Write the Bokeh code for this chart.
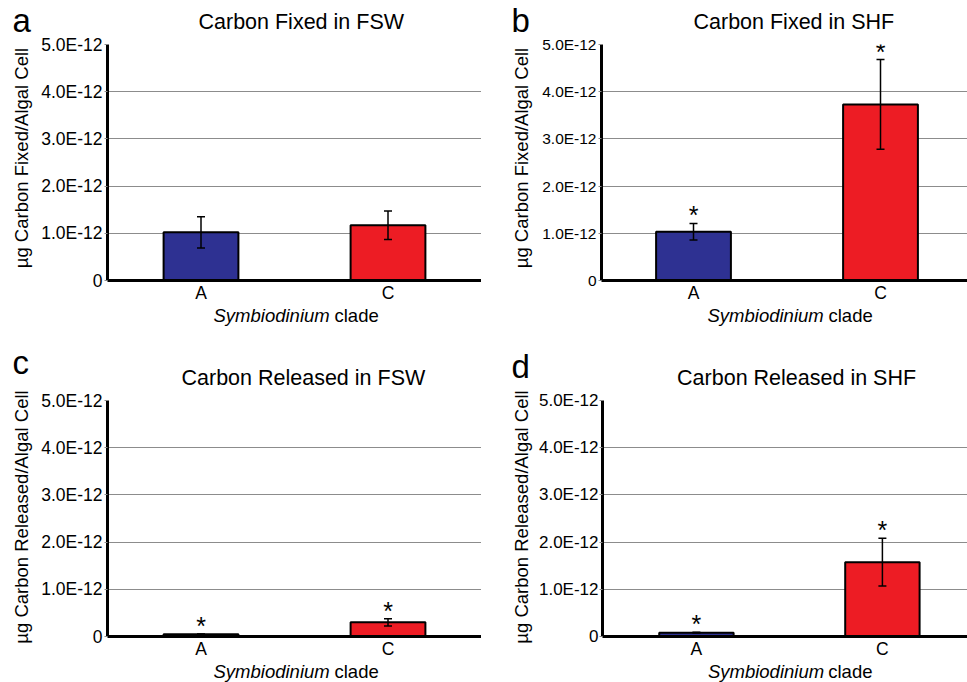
import math
from bokeh.plotting import figure
from bokeh.models import (Range1d, FixedTicker, CustomJSTickFormatter,
                          Whisker, TeeHead, ColumnDataSource)
from bokeh.layouts import column, row
from bokeh.core.properties import value
from bokeh.embed import file_html
from bokeh.resources import INLINE

# ---------------- data ----------------
clades = ["A", "C"]
bar_colors = ["#2E3192", "#ED1C24"]

fixed_fsw = [1.02e-12, 1.17e-12]
fixed_fsw_err = [0.33e-12, 0.30e-12]
fixed_fsw_sig = [False, False]

fixed_shf = [1.035e-12, 3.73e-12]
fixed_shf_err = [0.175e-12, 0.95e-12]
fixed_shf_sig = [True, True]

released_fsw = [0.05e-12, 0.30e-12]
released_fsw_err = [0.005e-12, 0.075e-12]
released_fsw_sig = [True, True]

released_shf = [0.08e-12, 1.575e-12]
released_shf_err = [0.008e-12, 0.505e-12]
released_shf_sig = [True, True]

ytick_values = [0, 1e-12, 2e-12, 3e-12, 4e-12, 5e-12]
ytick_labels = ["0", "1.0E-12", "2.0E-12", "3.0E-12", "4.0E-12", "5.0E-12"]

titles = ["Carbon Fixed in FSW", "Carbon Fixed in SHF",
          "Carbon Released in FSW", "Carbon Released in SHF"]
letters = ["a", "b", "c", "d"]
ylabels = ["\u00b5g Carbon Fixed/Algal Cell", "\u00b5g Carbon Fixed/Algal Cell",
           "\u00b5g Carbon Released/Algal Cell", "\u00b5g Carbon Released/Algal Cell"]
xlabel_italic = "Symbiodinium"
xlabel_rest = "clade"

# ---------------- layout constants ----------------
FONT = "Liberation Sans"
PX_PER_UNIT = 187
GRID = "#8c8c8c"
QUAD_W = [481, 486]          # left / right quadrant widths
LEFTCOL_W = [36, 54]         # column holding panel letter + y label
QUAD_H = 341
PANEL_TOP, PANEL_BOTTOM, FRAME_H = 10, 22, 239
PANEL_H = PANEL_TOP + FRAME_H + PANEL_BOTTOM
TOP_H = [34, 49]             # title strip heights (row 1, row 2)
BASELINE_FIX = 0.38          # em; compensates SVG alphabetic baseline placement

LOOKUP = """
let i = -1;
for (let k = 0; k < tvals.length; k++) {
  if (Math.abs(tvals[k] - tick) <= 1e-6 * Math.max(Math.abs(tvals[k]), 1e-18)) { i = k; break; }
}
return i >= 0 ? tlabels[i] : "";
"""


def make_panel(vals, errs, sig, *, width, border_left, x_start, tick_size,
               tick_standoff):
    x_end = x_start + (width - border_left) / PX_PER_UNIT
    p = figure(width=width, height=PANEL_H,
               x_range=Range1d(x_start, x_end), y_range=Range1d(0, 5e-12),
               output_backend="svg", toolbar_location=None,
               min_border_left=border_left, min_border_right=0,
               min_border_top=PANEL_TOP, min_border_bottom=PANEL_BOTTOM)
    p.outline_line_color = None
    p.background_fill_color = "white"
    p.border_fill_color = "white"

    xs = [i + 0.5 for i in range(len(clades))]
    src = ColumnDataSource(dict(
        x=xs, top=vals, color=bar_colors,
        upper=[v + e for v, e in zip(vals, errs)],
        lower=[v - e for v, e in zip(vals, errs)],
    ))
    p.vbar(x="x", top="top", bottom=0, width=0.4, fill_color="color",
           line_color="black", line_width=2, source=src)

    w = Whisker(base="x", upper="upper", lower="lower", source=src,
                line_color="black", line_width=1.5, level="overlay",
                upper_head=TeeHead(size=8, line_width=1.5, line_color="black"),
                lower_head=TeeHead(size=8, line_width=1.5, line_color="black"))
    p.add_layout(w)

    sx = [x for x, s in zip(xs, sig) if s]
    sy = [v + e for v, e, s in zip(vals, errs, sig) if s]
    if sx:
        p.text(x=sx, y=sy, text=["*"] * len(sx), text_font=value(FONT),
               text_font_size="25px", text_align="center",
               text_baseline="alphabetic", text_color="black", y_offset=-8)

    yax = p.yaxis[0]
    yax.ticker = FixedTicker(ticks=ytick_values)
    yax.formatter = CustomJSTickFormatter(
        args=dict(tvals=ytick_values, tlabels=ytick_labels), code=LOOKUP)
    yax.major_label_text_font = FONT
    yax.major_label_text_font_size = tick_size
    yax.major_label_text_color = "black"
    yax.major_label_standoff = tick_standoff
    yax.axis_line_width = 3
    yax.axis_line_color = "black"
    yax.major_tick_out = 3
    yax.major_tick_in = 0
    yax.major_tick_line_color = GRID
    yax.minor_tick_line_color = None

    xax = p.xaxis[0]
    xax.ticker = FixedTicker(ticks=xs)
    xax.formatter = CustomJSTickFormatter(
        args=dict(tvals=xs, tlabels=clades), code=LOOKUP)
    xax.major_label_text_font = FONT
    xax.major_label_text_font_size = "17.5px"
    xax.major_label_text_color = "black"
    xax.major_label_standoff = 2
    xax.axis_line_width = 3
    xax.axis_line_color = "black"
    xax.major_tick_out = 0
    xax.major_tick_in = 0
    xax.minor_tick_line_color = None

    p.xgrid.grid_line_color = None
    p.ygrid.ticker = FixedTicker(ticks=ytick_values)
    p.ygrid.grid_line_color = GRID
    p.ygrid.grid_line_width = 1
    return p


def text_fig(width, height, border_left=0):
    # frame spans [border_left, width]; data x equals pixel x in the figure
    s = figure(width=width, height=height,
               x_range=Range1d(border_left, width), y_range=Range1d(height, 0),
               output_backend="svg", toolbar_location=None,
               min_border_left=border_left, min_border_right=0,
               min_border_top=0, min_border_bottom=0,
               x_axis_location=None, y_axis_location=None)
    s.grid.visible = False
    s.outline_line_color = None
    s.background_fill_color = "white"
    s.border_fill_color = "white"
    return s


def put(s, x, baseline, txt, size_px, style="normal"):
    s.text(x=[x], y=[baseline - BASELINE_FIX * size_px], text=[txt],
           text_font=value(FONT), text_font_size=f"{size_px}px",
           text_font_style=style, text_color="black",
           text_align="left", text_baseline="alphabetic")


def put_vertical(s, baseline_x, center_y, txt, size_px):
    s.text(x=[baseline_x - BASELINE_FIX * size_px], y=[center_y], text=[txt],
           angle=math.pi / 2, text_font=value(FONT),
           text_font_size=f"{size_px}px", text_color="black",
           text_align="center", text_baseline="alphabetic")


TITLE_DX = [91, 92, 74, 75]
FRAME_LEFT = [107, 120, 107, 119]    # frame left edge within each quadrant


def quadrant(k, panel, *, top_h, letter_x, letter_base, ylab_x, ylab_cy,
             title_base, xlab_base):
    side = k % 2
    lw = LEFTCOL_W[side]
    inner_w = QUAD_W[side] - lw
    fl = FRAME_LEFT[k] - lw          # frame left inside the inner column

    left = text_fig(lw, QUAD_H)
    put(left, letter_x, letter_base, letters[k], 33)
    put_vertical(left, ylab_x, ylab_cy, ylabels[k], 18.5)

    top = text_fig(inner_w, top_h, fl)
    put(top, fl + TITLE_DX[k], title_base, titles[k], 21.5)

    bot_h = QUAD_H - top_h - PANEL_H
    bot = text_fig(inner_w, bot_h, fl)
    put(bot, fl + 106, xlab_base, xlabel_italic, 18.5, "italic")
    put(bot, fl + 227, xlab_base, xlabel_rest, 18.5)
    return row(left, column(top, panel, bot))


pa = make_panel(fixed_fsw, fixed_fsw_err, fixed_fsw_sig,
                width=QUAD_W[0] - LEFTCOL_W[0],
                border_left=FRAME_LEFT[0] - LEFTCOL_W[0], x_start=0.0,
                tick_size="17.5px", tick_standoff=2)
pb = make_panel(fixed_shf, fixed_shf_err, fixed_shf_sig,
                width=QUAD_W[1] - LEFTCOL_W[1],
                border_left=FRAME_LEFT[1] - LEFTCOL_W[1], x_start=0.008,
                tick_size="15.5px", tick_standoff=2)
pc = make_panel(released_fsw, released_fsw_err, released_fsw_sig,
                width=QUAD_W[0] - LEFTCOL_W[0],
                border_left=FRAME_LEFT[2] - LEFTCOL_W[0], x_start=0.0,
                tick_size="17.5px", tick_standoff=2)
pd = make_panel(released_shf, released_shf_err, released_shf_sig,
                width=QUAD_W[1] - LEFTCOL_W[1],
                border_left=FRAME_LEFT[3] - LEFTCOL_W[1], x_start=-0.005,
                tick_size="17px", tick_standoff=1)

qa = quadrant(0, pa, top_h=TOP_H[0], letter_x=12, letter_base=33,
              ylab_x=28.5, ylab_cy=157.5, title_base=29.3, xlab_base=17)
qb = quadrant(1, pb, top_h=TOP_H[0], letter_x=30, letter_base=33,
              ylab_x=47.5, ylab_cy=157.5, title_base=29.3, xlab_base=17)
qc = quadrant(2, pc, top_h=TOP_H[1], letter_x=12, letter_base=33.3,
              ylab_x=28.5, ylab_cy=175.5, title_base=44.4, xlab_base=16.9)
qd = quadrant(3, pd, top_h=TOP_H[1], letter_x=30, letter_base=37.7,
              ylab_x=47.5, ylab_cy=175.5, title_base=44.4, xlab_base=16.9)

layout = column(row(qa, qb), row(qc, qd))
open("out.html", "w").write(file_html(layout, INLINE))
